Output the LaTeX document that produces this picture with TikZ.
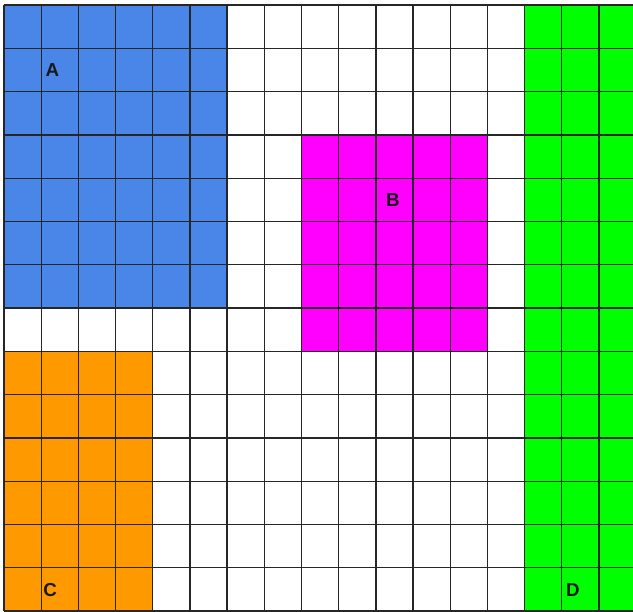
\documentclass[tikz,border=0pt]{standalone}
\usepackage{fontspec}
\setsansfont{Liberation Sans}
\usepackage{tikz}
\usetikzlibrary{positioning}

\definecolor{zoneblue}{HTML}{4A86E8}
\definecolor{zonepink}{HTML}{FF00FF}
\definecolor{zoneorange}{HTML}{FF9900}
\definecolor{zonegreen}{HTML}{00FF00}

\begin{document}
\begin{tikzpicture}[
  x=1.1156cm, y=-1.2986cm,
  zone/.style={draw=none},
  gridline/.style={line width=1.1pt, black!85, xstep=1.1156cm, ystep=1.2986cm},
  tag/.style={font=\fontsize{16}{16}\selectfont\sffamily\bfseries, text=black!90, inner sep=0pt},
]
\useasboundingbox (-0.1076,-0.1155) rectangle (16.914,14.0);
\clip (-0.1076,-0.1155) rectangle (16.914,14.0);

% coloured zones
\fill[zone, zoneblue]   (0,0) rectangle (6,7);
\fill[zone, zonepink]   (8,3) rectangle (13,8);
\fill[zone, zoneorange] (0,8) rectangle (4,14);
\fill[zone, zonegreen]  (14,0) rectangle (17,14);

% the cells
\draw[gridline] (0,0) grid (17,14);

% zone names
\node[tag] (A) at (1.30,1.50)  {A};
\node[tag] (B) at (10.46,4.50) {B};
\node[tag] (C) at (1.24,13.51) {C};
\node[tag] (D) at (15.30,13.51) {D};

\end{tikzpicture}
\end{document}
